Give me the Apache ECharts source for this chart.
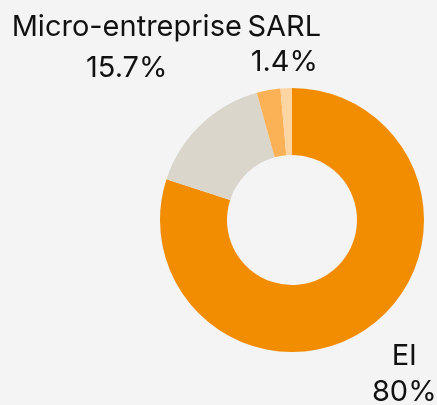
<!DOCTYPE html>
<html>
<head>
<meta charset="utf-8">
<script src="https://cdn.jsdelivr.net/npm/echarts@6/dist/echarts.min.js"></script>
<style>
html,body{margin:0;padding:0;background:#f4f4f4;}
#c{width:437px;height:405px;}
</style>
</head>
<body>
<div id="c"></div>
<script>
var categories = ['EI', 'Micro-entreprise', 'SAS', 'SARL'];
var values = [80, 15.7, 2.9, 1.4];
var colors = ['#f28c00', '#dad6cc', '#fbb155', '#fdd5a3'];
var showLabel = [true, true, false, true];
var lineLen = [59, 107, 40, 43];
var lineHeights = [36, 41, 36, 35];

var data = categories.map(function (name, i) {
  return {
    name: name,
    value: values[i],
    itemStyle: { color: colors[i] },
    label: { show: showLabel[i], lineHeight: lineHeights[i] },
    labelLine: { length: lineLen[i] }
  };
});

var chart = echarts.init(document.getElementById('c'));
chart.setOption({
  backgroundColor: '#f4f4f4',
  animation: false,
  series: [{
    type: 'pie',
    center: [292, 220],
    radius: [65, 132],
    startAngle: 90,
    avoidLabelOverlap: false,
    label: {
      position: 'outside',
      formatter: '{b}\n{c}%',
      fontFamily: 'Inter',
      fontSize: 29,
      color: '#111111',
      distanceToLabelLine: 0
    },
    labelLine: { show: false, length2: 0 },
    labelLayout: { align: 'center' },
    data: data
  }]
});
</script>
</body>
</html>
